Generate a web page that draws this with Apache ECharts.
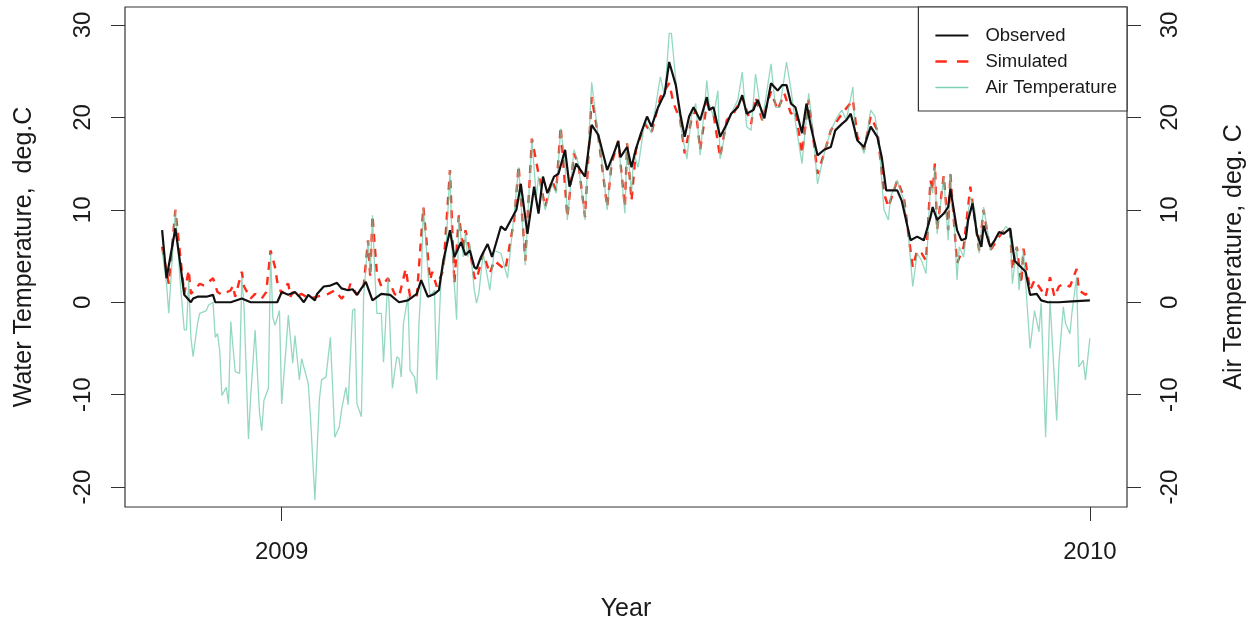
<!DOCTYPE html>
<html>
<head>
<meta charset="utf-8">
<script src="https://cdn.jsdelivr.net/npm/echarts@6/dist/echarts.min.js"></script>
<style>
  html, body { margin: 0; padding: 0; background: #ffffff; }
  #chart { width: 1251px; height: 624px; }
</style>
</head>
<body>
<div id="chart"></div>
<script>
// First day of the record; every series below is keyed by days since this date.
const startDate = Date.UTC(2008, 10, 8);
const DAY_MS = 86400000;

// Year tick positions (dates) on the horizontal axis
const yearTicks = ['2009-01-01', '2010-01-01'];
// Temperature ticks shared by both vertical axes
const tempTicks = [-20, -10, 0, 10, 20, 30];

// Observed water temperature, deg C: [day, value]
const observed = [
  [0,7.8],[2,2.6],[6,8.0],[8,4.5],[10,0.8],[13,0.0],[14,0.4],[16,0.6],[20,0.6],[23,0.8],
  [24,0.0],[31,0.0],[36,0.4],[40,0.0],[52,0.0],[54,1.1],[57,0.8],[60,1.1],[62,0.6],[64,0.0],
  [66,0.8],[69,0.2],[70,0.9],[73,1.7],[76,1.8],[79,2.1],[81,1.5],[84,1.3],[86,1.4],[88,0.8],
  [92,2.2],[95,0.2],[99,0.9],[103,0.8],[107,0.0],[111,0.2],[115,0.9],[117,2.4],[120,0.6],[123,0.9],
  [125,1.3],[127,4.5],[130,7.8],[132,4.9],[135,6.5],[137,5.1],[139,5.6],[141,3.8],[142,3.6],[144,4.9],
  [147,6.3],[149,4.9],[153,8.2],[155,7.8],[160,10.0],[162,12.8],[165,7.4],[168,12.5],[170,9.6],[172,13.6],
  [174,11.8],[177,13.6],[179,13.9],[182,16.5],[184,12.5],[187,15.0],[191,13.6],[194,19.2],[197,18.1],[201,14.3],
  [204,16.1],[206,17.4],[207,15.7],[210,16.8],[212,14.6],[214,16.6],[216,18.1],[219,20.1],[221,19.0],[224,21.1],
  [227,22.6],[229,26.0],[232,23.5],[234,20.4],[236,17.9],[238,20.1],[240,21.1],[243,19.7],[246,22.2],[247,20.8],
  [249,21.1],[252,17.9],[255,19.3],[257,20.4],[260,21.1],[262,22.4],[264,20.4],[267,20.8],[269,21.9],[272,19.9],
  [275,23.7],[278,22.9],[280,23.5],[282,23.5],[284,21.5],[286,21.1],[289,18.3],[291,21.5],[293,19.0],[296,15.9],
  [299,16.5],[302,16.8],[304,18.6],[307,19.3],[309,19.7],[311,20.4],[314,17.5],[317,16.8],[320,19.0],[323,17.9],
  [325,15.7],[327,12.1],[329,12.1],[332,12.1],[334,11.0],[337,7.8],[338,6.7],[341,7.1],[344,6.7],[347,9.2],
  [348,10.3],[350,8.9],[353,9.6],[355,10.3],[356,12.3],[359,7.8],[361,6.7],[363,6.9],[364,8.9],[366,10.7],
  [368,7.4],[370,6.0],[371,8.3],[374,6.0],[376,6.7],[378,7.6],[380,7.4],[383,8.0],[385,4.5],[387,4.0],
  [390,3.3],[392,0.8],[395,0.9],[397,0.2],[400,0.0],[405,0.0],[411,0.1],[419,0.2]
];

// Simulated water temperature, deg C: [day, value]
const simulated = [
  [0,6.0],[3,2.0],[6,10.0],[10,0.9],[12,3.5],[13,0.9],[17,2.0],[19,1.8],[23,2.6],[25,1.1],
  [27,0.8],[31,1.3],[32,1.8],[33,0.6],[36,3.3],[37,1.7],[40,0.4],[42,0.9],[45,0.4],[47,1.1],
  [49,5.6],[51,3.8],[52,2.2],[54,0.9],[55,1.7],[57,2.0],[58,0.6],[59,1.1],[60,0.6],[63,0.9],
  [65,0.6],[67,0.4],[70,0.6],[75,0.9],[78,1.3],[81,0.4],[84,1.1],[85,2.0],[88,0.8],[91,1.7],
  [93,6.7],[94,2.7],[95,9.4],[97,3.1],[99,1.7],[102,2.6],[105,0.9],[107,0.6],[110,3.6],[112,0.6],
  [115,0.6],[118,10.3],[121,2.4],[122,3.3],[124,1.7],[127,3.5],[130,14.3],[132,2.0],[134,9.4],[136,5.6],
  [137,7.8],[139,5.6],[141,2.7],[142,2.4],[145,5.3],[148,3.1],[150,4.5],[155,3.5],[159,8.9],[161,14.8],
  [164,4.5],[167,17.7],[170,13.9],[173,10.3],[176,13.2],[178,12.1],[180,19.0],[183,9.2],[186,16.1],[188,15.0],
  [191,9.2],[194,22.2],[197,17.9],[201,10.3],[203,15.0],[206,17.5],[209,10.3],[210,17.2],[212,11.0],[214,16.5],
  [218,19.3],[221,18.3],[225,22.2],[229,23.7],[231,21.5],[234,19.7],[236,16.1],[239,19.7],[241,20.8],[243,16.5],
  [246,21.5],[249,20.4],[252,15.7],[255,19.7],[258,20.4],[262,22.2],[266,19.3],[268,22.2],[271,19.7],[275,22.8],
  [278,20.8],[281,22.6],[284,20.4],[286,20.8],[289,16.1],[292,21.9],[296,13.9],[299,16.1],[302,18.6],[307,20.4],
  [312,21.9],[314,17.9],[317,16.5],[320,20.1],[323,18.6],[326,11.8],[328,10.3],[332,13.2],[335,11.4],[337,7.4],
  [339,3.8],[341,5.6],[343,5.3],[345,4.5],[347,13.2],[348,12.1],[349,15.0],[350,7.8],[353,13.7],[355,7.8],
  [356,13.9],[359,4.2],[362,6.0],[365,12.5],[369,5.6],[371,10.0],[374,5.6],[380,7.8],[383,7.8],[384,3.5],
  [386,6.0],[388,2.0],[389,5.8],[392,1.3],[394,2.4],[396,1.7],[399,0.6],[401,2.7],[403,0.6],[405,1.7],
  [407,2.0],[410,1.7],[413,3.6],[414,1.3],[417,0.8],[419,1.3]
];

// Daily air temperature, deg C: [day, value]
const airTemperature = [
  [0,5.6],[2,2.0],[3,-1.2],[6,10.0],[8,2.7],[10,-3.0],[11,-3.0],[12,2.4],[13,-3.8],[14,-5.9],
  [16,-2.3],[17,-1.2],[20,-0.9],[21,-0.3],[23,0.0],[24,-3.8],[25,-3.4],[26,-5.2],[27,-10.1],[29,-9.2],
  [30,-11.0],[31,-2.1],[33,-7.5],[35,-7.7],[36,2.7],[37,-0.5],[39,-14.8],[40,-10.2],[42,-3.0],[44,-12.0],
  [45,-13.9],[46,-10.6],[48,-9.3],[49,5.3],[50,-1.6],[51,-2.5],[53,-0.9],[54,-11.0],[56,-4.8],[57,-1.4],
  [59,-6.6],[60,-3.6],[62,-8.4],[63,-6.1],[66,-8.8],[67,-12.4],[69,-21.4],[71,-10.6],[72,-8.4],[74,-8.1],
  [76,-3.8],[78,-14.6],[80,-13.5],[81,-11.7],[83,-9.2],[84,-11.1],[86,-0.9],[87,-0.7],[88,-11.0],[90,-12.4],
  [91,0.6],[93,6.7],[94,3.1],[95,9.4],[96,3.5],[97,-1.2],[99,-1.2],[100,-6.5],[102,2.7],[104,-9.3],
  [106,-5.9],[107,-6.1],[108,-8.1],[109,-2.3],[111,0.6],[112,-7.4],[114,-8.1],[115,-9.9],[116,-2.3],[117,2.0],
  [118,10.3],[120,3.5],[121,0.6],[123,1.3],[124,-8.4],[126,2.7],[128,4.9],[130,14.3],[131,5.6],[133,-1.9],
  [134,9.2],[136,4.9],[137,7.6],[138,4.9],[139,6.3],[141,1.3],[142,-0.1],[143,0.9],[145,5.3],[148,1.3],
  [150,5.6],[153,5.3],[156,2.6],[159,9.6],[161,14.6],[164,4.0],[167,17.7],[169,11.4],[170,13.6],[173,10.0],
  [176,12.8],[178,11.8],[180,18.8],[182,15.0],[183,8.9],[186,16.5],[188,15.0],[191,8.9],[194,23.8],[197,17.9],
  [199,14.6],[201,10.0],[203,15.4],[206,17.5],[209,9.6],[210,17.2],[212,11.8],[213,16.1],[215,14.6],[218,19.7],
  [221,18.3],[225,24.4],[227,22.2],[229,29.1],[230,29.1],[232,24.0],[234,19.3],[237,15.5],[239,20.1],[241,21.5],
  [243,15.9],[246,24.0],[247,21.5],[249,20.1],[251,22.9],[252,15.5],[255,19.3],[257,20.4],[260,21.9],[262,24.9],
  [264,19.0],[266,18.6],[268,24.7],[271,19.7],[272,21.1],[275,25.8],[277,21.1],[279,21.1],[282,26.0],[284,23.0],
  [286,19.5],[289,15.0],[292,22.6],[294,18.3],[296,12.8],[299,16.1],[302,18.6],[305,20.1],[307,20.8],[309,19.7],
  [312,23.3],[313,17.9],[316,16.8],[317,16.1],[320,20.8],[322,20.1],[324,16.5],[326,10.0],[328,8.9],[329,11.4],
  [332,13.2],[335,11.0],[337,7.4],[339,1.7],[341,5.3],[343,4.5],[345,3.1],[347,12.8],[348,11.8],[349,14.6],
  [350,7.4],[353,13.6],[355,6.7],[356,13.9],[358,7.4],[359,2.4],[360,6.0],[362,4.9],[364,9.6],[365,11.4],
  [367,10.0],[369,5.3],[371,10.3],[373,7.4],[374,5.6],[377,7.1],[380,7.8],[381,8.2],[383,7.8],[384,2.0],
  [386,6.0],[387,1.3],[389,5.6],[390,2.0],[392,-5.0],[394,-0.9],[396,-3.2],[397,-0.1],[399,-14.6],[400,-7.4],
  [401,0.2],[404,-12.8],[405,-6.6],[407,-0.5],[408,-2.3],[410,-3.4],[411,-0.9],[413,2.7],[414,-7.0],[416,-6.3],
  [417,-8.4],[419,-3.9]
];

// Day offset of a calendar date relative to the first record
const dayOf = iso => (Date.parse(iso + 'T00:00:00Z') - startDate) / DAY_MS;
const yearTickDays = yearTicks.map(dayOf);
const yearOfDay = d => new Date(startDate + Math.round(d) * DAY_MS).getUTCFullYear();

// Axis extents padded by 4% of the data range on each side
const lastDay = 419;
const xPad = lastDay * 0.04;
const xMin = -xPad;
const xMax = lastDay + xPad;
const yMin = -22.16, yMax = 31.95;

const FONT = '"Liberation Sans", Arial, Helvetica, sans-serif';
const AXIS_COLOR = '#333333';

function tempAxis(position, name, labelMargin, nameGap) {
  return {
    type: 'value',
    position: position,
    min: yMin,
    max: yMax,
    name: name,
    nameLocation: 'middle',
    nameGap: nameGap,
    nameRotate: 90,
    nameTextStyle: { fontFamily: FONT, fontSize: 25, color: '#1a1a1a' },
    axisLine: { show: false, onZero: false },
    axisTick: { show: true, inside: false, length: 14, customValues: tempTicks,
                lineStyle: { color: AXIS_COLOR, width: 1 } },
    axisLabel: { show: true, rotate: 90, margin: labelMargin, customValues: tempTicks,
                 fontFamily: FONT, fontSize: 24, color: '#1a1a1a',
                 formatter: v => String(Math.round(v)) },
    splitLine: { show: false }
  };
}

const chart = echarts.init(document.getElementById('chart'), null, { renderer: 'canvas' });

chart.setOption({
  animation: false,
  backgroundColor: '#ffffff',
  grid: {
    left: 125, right: 124, top: 7, bottom: 117,
    containLabel: false,
    outerBoundsMode: 'none',
    show: true, borderColor: AXIS_COLOR, borderWidth: 1.2, backgroundColor: 'transparent'
  },
  legend: {
    right: 124, top: 7,
    orient: 'vertical',
    backgroundColor: '#ffffff',
    borderColor: AXIS_COLOR, borderWidth: 1.2,
    padding: [19, 10, 14, 17],
    itemWidth: 33, itemHeight: 14, itemGap: 7,
    symbolKeepAspect: true,
    textStyle: { fontFamily: FONT, fontSize: 18.5, color: '#1a1a1a', padding: [0, 0, 0, 12], lineHeight: 18 },
    data: [
      { name: 'Observed', icon: 'path://M0,0h33v2.2h-33z' },
      { name: 'Simulated', icon: 'path://M0,0h10v2.2h-10zM19,0h10v2.2h-10z' },
      { name: 'Air Temperature', icon: 'path://M0,0h33v1.5h-33z' }
    ],
    z: 20
  },
  xAxis: {
    type: 'value',
    min: xMin,
    max: xMax,
    name: 'Year',
    nameLocation: 'middle',
    nameGap: 90,
    nameTextStyle: { fontFamily: FONT, fontSize: 25, color: '#1a1a1a' },
    axisLine: { show: false, onZero: false },
    axisTick: { show: true, length: 14, customValues: yearTickDays,
                lineStyle: { color: AXIS_COLOR, width: 1 } },
    axisLabel: { show: true, margin: 33, customValues: yearTickDays,
                 fontFamily: FONT, fontSize: 24, color: '#1a1a1a',
                 formatter: v => String(yearOfDay(v)) },
    splitLine: { show: false }
  },
  yAxis: [
    tempAxis('left', 'Water Temperature,  deg.C', 30, 88),
    tempAxis('right', 'Air Temperature, deg. C', 31, 95)
  ],
  series: [
    {
      name: 'Simulated', type: 'line', yAxisIndex: 0, data: simulated,
      showSymbol: false, symbol: 'none', z: 2,
      itemStyle: { color: '#ff2a1a' },
      lineStyle: { color: '#ff2a1a', width: 2.4, type: [8, 7] }
    },
    {
      name: 'Air Temperature', type: 'line', yAxisIndex: 1, data: airTemperature,
      showSymbol: false, symbol: 'none', z: 3,
      itemStyle: { color: '#7fd0b6' },
      lineStyle: { color: 'rgba(102,200,165,0.7)', width: 1.3 }
    },
    {
      name: 'Observed', type: 'line', yAxisIndex: 0, data: observed,
      showSymbol: false, symbol: 'none', z: 4,
      itemStyle: { color: '#111111' },
      lineStyle: { color: '#111111', width: 2.2 }
    }
  ]
});
</script>
</body>
</html>
